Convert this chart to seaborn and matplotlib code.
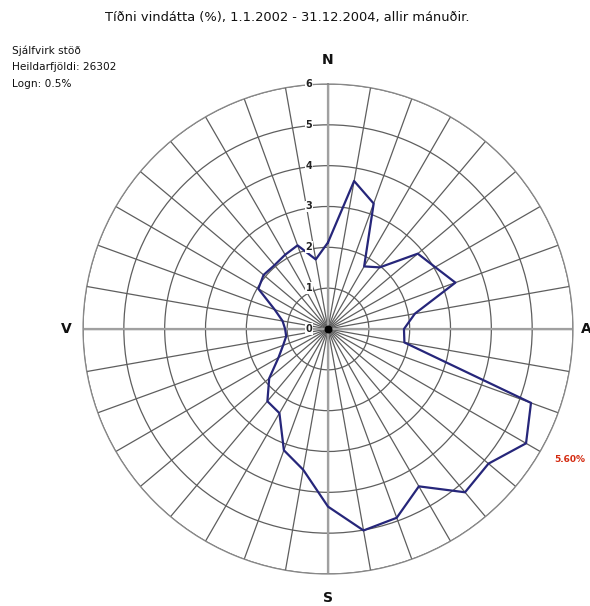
import numpy as np
import pandas as pd
import seaborn as sns
import matplotlib
matplotlib.use("Agg")
import matplotlib.pyplot as plt
from matplotlib.transforms import offset_copy

# ---- data ----
directions_deg = list(range(0, 360, 10))
frequency_pct = [2.12, 3.68, 3.27, 1.77, 1.97, 2.87, 3.03, 3.32, 2.16, 1.86,
                 1.90, 5.29, 5.60, 5.13, 5.22, 4.45, 4.92, 5.01, 4.35, 3.50,
                 3.16, 2.38, 2.31, 1.88, 1.40, 1.17, 1.04, 1.05, 1.13, 1.39,
                 1.97, 2.06, 2.04, 2.10, 2.18, 1.73]
radial_ticks = [0, 1, 2, 3, 4, 5, 6]
compass_labels = ["N", "A", "S", "V"]
compass_angles = [0, 90, 180, 270]
title_text = "Tíðni vindátta (%), 1.1.2002 - 31.12.2004, allir mánuðir."
info_lines = ["Sjálfvirk stöð", "Heildarfjöldi: 26302", "Logn: 0.5%"]
max_label = "5.60%"

sns.set_style("white")
plt.rcParams['font.family'] = ['DejaVu Sans']

df = pd.DataFrame({"deg": directions_deg + [360],
                   "pct": frequency_pct + [frequency_pct[0]]})
df["theta"] = np.deg2rad(df["deg"])

fig = plt.figure(figsize=(5.90, 6.06), dpi=100)
ax = fig.add_axes([0.1407, 0.0528, 0.8305, 0.8086], projection="polar")
ax.set_theta_zero_location("N")
ax.set_theta_direction(-1)
ax.set_ylim(0, 6)

ax.set_thetagrids(np.arange(0, 360, 10), labels=[""] * 36)
ax.set_rgrids(radial_ticks[1:], labels=[""] * 6)
ax.grid(True, color="#5e5e5e", linewidth=0.9)
ax.spines["polar"].set_color("#888888")
ax.spines["polar"].set_linewidth(0.9)

# main axes (N-S, E-W) lighter, thicker
for a in compass_angles:
    ax.axvline(np.deg2rad(a), color="#a0a0a0", linewidth=1.6, zorder=1)

sns.lineplot(data=df, x="theta", y="pct", sort=False, ax=ax,
             color="#26267a", linewidth=1.6, zorder=5)
ax.set_xlabel("")
ax.set_ylabel("")

# center dot
ax.scatter([0], [0], s=22, color="black", zorder=6)

# radial labels left of the N spoke
tr = offset_copy(ax.transData, fig=fig, x=-19, y=0, units="dots")
for r in radial_ticks:
    ax.text(0, r, str(r), transform=tr, ha="center", va="center",
            fontsize=7, fontweight="bold", color="#222222", zorder=7,
            bbox=dict(facecolor="white", edgecolor="none", pad=0.6))

# compass labels
pos = {"N": (328, 60), "A": (586, 329), "S": (328, 598), "V": (66, 329)}
for lab in compass_labels:
    x, y = pos[lab]
    fig.text(x / 590, 1 - y / 606, lab, ha="center", va="center",
             fontsize=10, fontweight="bold", color="#111111")

fig.text(287 / 590, 1 - 17 / 606, title_text, ha="center", va="center",
         fontsize=9.4, color="#111111")
for i, line in enumerate(info_lines):
    fig.text(12 / 590, 1 - (51 + i * 16.5) / 606, line, ha="left",
             va="center", fontsize=7.6, color="#111111")

fig.text(554 / 590, 1 - 459 / 606, max_label, ha="left", va="center",
         fontsize=6.5, fontweight="bold", color="#d42a10")

fig.savefig("out.png", dpi=100, facecolor="white")
